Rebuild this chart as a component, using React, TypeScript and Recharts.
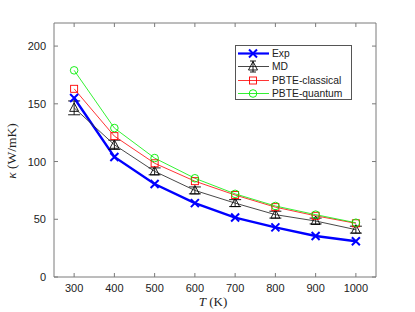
import React from 'react';
import { LineChart, Line, XAxis, YAxis, ErrorBar } from 'recharts';

const temps = [300, 400, 500, 600, 700, 800, 900, 1000];
const expVals = [155, 104, 80.5, 64, 51.5, 43, 35.5, 31];
const mdVals = [146.5, 114.5, 91.5, 75, 64, 54, 48.5, 41];
const mdErr = [6, 4, 3, 3, 3, 3, 2.5, 3];
const classicalVals = [163, 122, 98.5, 83, 71, 60.5, 53, 46.5];
const quantumVals = [179, 129, 103, 85.5, 72, 61.5, 54, 47];
const yTicks = [0, 50, 100, 150, 200];

const data = temps.map((t, i) => ({
  T: t,
  exp: expVals[i],
  md: mdVals[i],
  mdErr: mdErr[i],
  classical: classicalVals[i],
  quantum: quantumVals[i],
}));

const AX = '#7a7a7a';
const SANS = '"Liberation Sans", Arial, Helvetica, sans-serif';
const SERIF = '"Liberation Serif", "DejaVu Serif", serif';
const TICK_FS = 11;

const BottomTick = (p: any) => (
  <g>
    <line x1={p.x} x2={p.x} y1={p.y} y2={p.y - 4} stroke={AX} strokeWidth={1} />
    <text x={p.x} y={p.y + 15} textAnchor="middle" fontFamily={SANS} fontSize={TICK_FS} fill="#222">
      {p.payload.value}
    </text>
  </g>
);
const TopTick = (p: any) => (
  <line x1={p.x} x2={p.x} y1={p.y} y2={p.y + 4} stroke={AX} strokeWidth={1} />
);
const LeftTick = (p: any) => (
  <g>
    <line x1={p.x} x2={p.x + 4} y1={p.y} y2={p.y} stroke={AX} strokeWidth={1} />
    <text x={p.x - 8} y={p.y + 4} textAnchor="end" fontFamily={SANS} fontSize={TICK_FS} fill="#222">
      {p.payload.value}
    </text>
  </g>
);
const RightTick = (p: any) => (
  <line x1={p.x} x2={p.x - 4} y1={p.y} y2={p.y} stroke={AX} strokeWidth={1} />
);

const xMark = (cx: number, cy: number, key?: any) => (
  <path key={key} d={`M${cx - 4},${cy - 4}L${cx + 4},${cy + 4}M${cx - 4},${cy + 4}L${cx + 4},${cy - 4}`} stroke="#0000ff" strokeWidth={2} fill="none" />
);
const triMark = (cx: number, cy: number, key?: any) => (
  <path key={key} d={`M${cx},${cy - 5}L${cx + 4.5},${cy + 3.5}L${cx - 4.5},${cy + 3.5}Z`} stroke="#000" strokeWidth={0.9} fill="none" />
);
const sqMark = (cx: number, cy: number, key?: any) => (
  <rect key={key} x={cx - 3.5} y={cy - 3.5} width={7} height={7} stroke="#ff0000" strokeWidth={0.9} fill="none" />
);
const circMark = (cx: number, cy: number, key?: any) => (
  <circle key={key} cx={cx} cy={cy} r={3.8} stroke="#00ee00" strokeWidth={0.9} fill="none" />
);

const legendItems = [
  { name: 'Exp', color: '#0000ff', width: 2.2, mark: xMark, err: false },
  { name: 'MD', color: '#333', width: 0.9, mark: triMark, err: true },
  { name: 'PBTE-classical', color: '#ff0000', width: 0.8, mark: sqMark, err: false },
  { name: 'PBTE-quantum', color: '#00ee00', width: 0.8, mark: circMark, err: false },
];

const LegendBox = () => (
  <div
    style={{
      position: 'absolute',
      left: 235,
      top: 45,
      width: 117,
      height: 55,
      boxSizing: 'border-box',
      border: '1px solid #555',
      background: '#fff',
      paddingTop: 1,
    }}
  >
    {legendItems.map((it) => (
      <div key={it.name} style={{ display: 'flex', alignItems: 'center', height: 13.3 }}>
        <svg width={36} height={13} style={{ display: 'block' }}>
          <line x1={2} x2={33} y1={6.5} y2={6.5} stroke={it.color} strokeWidth={it.width} />
          {it.err && <line x1={17} x2={17} y1={1} y2={12} stroke="#000" strokeWidth={0.9} />}
          {it.err && <line x1={14} x2={20} y1={1} y2={1} stroke="#000" strokeWidth={0.9} />}
          {it.err && <line x1={14} x2={20} y1={12} y2={12} stroke="#000" strokeWidth={0.9} />}
          {it.mark(17, 6.5)}
        </svg>
        <span style={{ fontFamily: SANS, fontSize: 10.3, color: '#222', lineHeight: '13px' }}>{it.name}</span>
      </div>
    ))}
  </div>
);

export default function App() {
  return (
    <div style={{ position: 'absolute', left: 0, top: 0, width: 415, height: 312, background: '#fff' }}>
      <LineChart width={415} height={312} data={data} margin={{ top: 18, right: 34, bottom: 5, left: 14 }}>
        <XAxis
          xAxisId="b"
          dataKey="T"
          type="number"
          domain={[250, 1050]}
          ticks={temps}
          height={30}
          tickSize={0}
          tickMargin={0}
          stroke={AX}
          tick={<BottomTick />}
          interval={0}
          allowDataOverflow
        />
        <XAxis
          xAxisId="t"
          orientation="top"
          dataKey="T"
          type="number"
          domain={[250, 1050]}
          ticks={temps}
          height={5}
          tickSize={0}
          tickMargin={0}
          stroke={AX}
          tick={<TopTick />}
          interval={0}
          allowDataOverflow
        />
        <YAxis
          yAxisId="l"
          type="number"
          domain={[0, 220]}
          ticks={yTicks}
          width={40}
          tickSize={0}
          tickMargin={0}
          stroke={AX}
          tick={<LeftTick />}
          interval={0}
          allowDataOverflow
        />
        <YAxis
          yAxisId="r"
          orientation="right"
          type="number"
          domain={[0, 220]}
          ticks={yTicks}
          width={5}
          tickSize={0}
          tickMargin={0}
          stroke={AX}
          tick={<RightTick />}
          interval={0}
          allowDataOverflow
        />
        <Line
          xAxisId="b"
          yAxisId="l"
          dataKey="exp"
          stroke="#0000ff"
          strokeWidth={2.4}
          isAnimationActive={false}
          dot={(p: any) => xMark(p.cx, p.cy, `e${p.index}`)}
          activeDot={false}
        />
        <Line
          xAxisId="b"
          yAxisId="l"
          dataKey="md"
          stroke="#333"
          strokeWidth={0.9}
          isAnimationActive={false}
          dot={(p: any) => triMark(p.cx, p.cy, `m${p.index}`)}
          activeDot={false}
        >
          <ErrorBar dataKey="mdErr" width={6} stroke="#000" strokeWidth={0.9} direction="y" isAnimationActive={false} />
        </Line>
        <Line
          xAxisId="b"
          yAxisId="l"
          dataKey="classical"
          stroke="#ff0000"
          strokeWidth={0.8}
          isAnimationActive={false}
          dot={(p: any) => sqMark(p.cx, p.cy, `c${p.index}`)}
          activeDot={false}
        />
        <Line
          xAxisId="b"
          yAxisId="l"
          dataKey="quantum"
          stroke="#00ee00"
          strokeWidth={0.8}
          isAnimationActive={false}
          dot={(p: any) => circMark(p.cx, p.cy, `q${p.index}`)}
          activeDot={false}
        />
        <text x={213} y={306} textAnchor="middle" fontFamily={SERIF} fontSize={13} fill="#222">
          <tspan fontStyle="italic">T</tspan>
          <tspan> (K)</tspan>
        </text>
        <text x={16} y={151} textAnchor="middle" fontFamily={SERIF} fontSize={13.5} fill="#222" transform="rotate(-90 16 151)">
          <tspan fontStyle="italic">κ</tspan>
          <tspan> (W/mK)</tspan>
        </text>
      </LineChart>
      <LegendBox />
    </div>
  );
}
